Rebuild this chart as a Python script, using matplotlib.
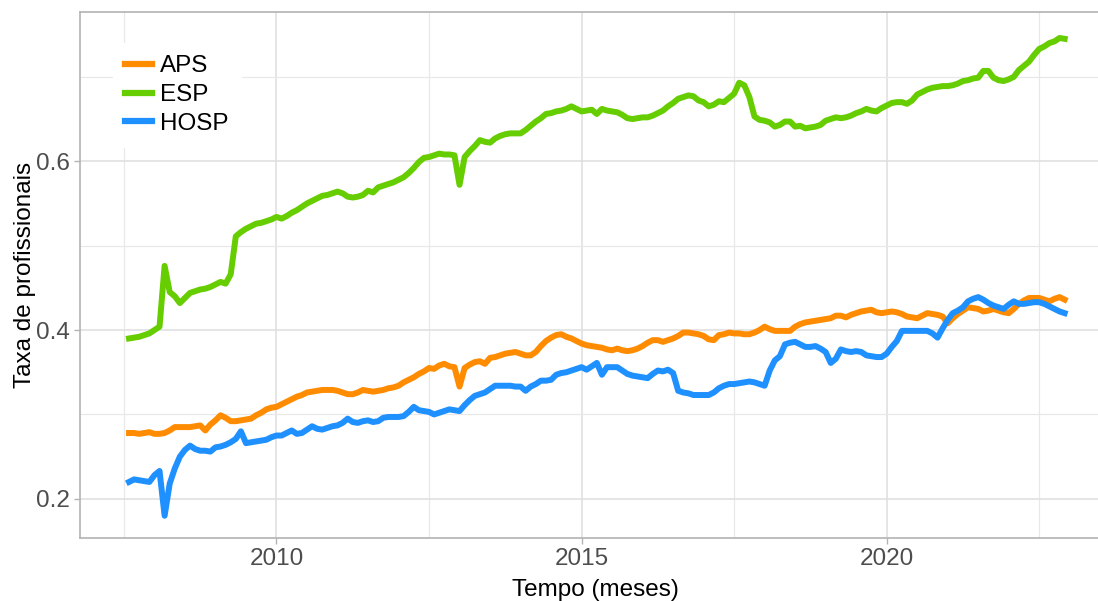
import matplotlib
matplotlib.use("Agg")
import matplotlib.pyplot as plt
import numpy as np

# series mensais, ago/2007 a dez/2022
inicio = 2007 + 7 / 12

aps = [
    0.278, 0.278, 0.277, 0.278, 0.279,
    0.277, 0.277, 0.278, 0.281, 0.285, 0.285, 0.285, 0.285, 0.286, 0.287, 0.281, 0.288,
    0.293, 0.299, 0.296, 0.292, 0.292, 0.293, 0.294, 0.295, 0.299, 0.302, 0.306, 0.308,
    0.309, 0.312, 0.315, 0.318, 0.321, 0.323, 0.326, 0.327, 0.328, 0.329, 0.329, 0.329,
    0.328, 0.326, 0.324, 0.324, 0.326, 0.329, 0.328, 0.327, 0.328, 0.329, 0.331, 0.332,
    0.334, 0.338, 0.341, 0.344, 0.348, 0.351, 0.355, 0.354, 0.358, 0.360, 0.357, 0.356,
    0.333, 0.355, 0.359, 0.362, 0.363, 0.360, 0.367, 0.368, 0.370, 0.372, 0.373, 0.374,
    0.372, 0.370, 0.370, 0.374, 0.381, 0.387, 0.391, 0.394, 0.395, 0.392, 0.390, 0.387,
    0.384, 0.382, 0.381, 0.380, 0.379, 0.377, 0.376, 0.378, 0.376, 0.375, 0.376, 0.378,
    0.381, 0.385, 0.388, 0.388, 0.386, 0.388, 0.390, 0.393, 0.397, 0.397, 0.396, 0.395,
    0.393, 0.389, 0.388, 0.394, 0.395, 0.397, 0.396, 0.396, 0.395, 0.395, 0.397, 0.400,
    0.404, 0.401, 0.399, 0.399, 0.399, 0.399, 0.404, 0.407, 0.409, 0.410, 0.411, 0.412,
    0.413, 0.414, 0.417, 0.417, 0.415, 0.418, 0.420, 0.422, 0.423, 0.424, 0.421, 0.420,
    0.421, 0.422, 0.421, 0.419, 0.416, 0.415, 0.414, 0.417, 0.420, 0.419, 0.418, 0.416,
    0.408, 0.414, 0.419, 0.423, 0.427, 0.426, 0.425, 0.422, 0.423, 0.425, 0.423, 0.421,
    0.420, 0.425, 0.431, 0.435, 0.438, 0.438, 0.438, 0.436, 0.434, 0.437, 0.439, 0.436,
]

esp = [
    0.390, 0.391, 0.392, 0.394, 0.396,
    0.400, 0.404, 0.476, 0.445, 0.440, 0.432, 0.438, 0.444, 0.446, 0.448, 0.449, 0.451,
    0.454, 0.457, 0.455, 0.466, 0.511, 0.516, 0.520, 0.523, 0.526, 0.527, 0.529, 0.531,
    0.534, 0.532, 0.535, 0.539, 0.542, 0.546, 0.550, 0.553, 0.556, 0.559, 0.560, 0.562,
    0.564, 0.562, 0.558, 0.557, 0.558, 0.560, 0.565, 0.563, 0.569, 0.571, 0.573, 0.575,
    0.578, 0.581, 0.586, 0.592, 0.599, 0.604, 0.605, 0.607, 0.609, 0.608, 0.608, 0.607,
    0.572, 0.605, 0.612, 0.618, 0.625, 0.623, 0.622, 0.627, 0.630, 0.632, 0.633, 0.633,
    0.633, 0.637, 0.642, 0.647, 0.651, 0.656, 0.657, 0.659, 0.660, 0.662, 0.665, 0.662,
    0.659, 0.660, 0.661, 0.656, 0.662, 0.660, 0.659, 0.658, 0.655, 0.651, 0.650, 0.651,
    0.652, 0.652, 0.654, 0.657, 0.660, 0.665, 0.669, 0.674, 0.676, 0.678, 0.677, 0.672,
    0.670, 0.665, 0.667, 0.671, 0.670, 0.675, 0.680, 0.693, 0.690, 0.676, 0.653, 0.649,
    0.648, 0.646, 0.641, 0.643, 0.647, 0.647, 0.641, 0.642, 0.639, 0.640, 0.641, 0.643,
    0.648, 0.650, 0.652, 0.651, 0.652, 0.654, 0.657, 0.659, 0.662, 0.660, 0.659, 0.663,
    0.666, 0.669, 0.670, 0.670, 0.668, 0.672, 0.679, 0.682, 0.685, 0.687, 0.688, 0.689,
    0.689, 0.690, 0.692, 0.695, 0.696, 0.698, 0.699, 0.707, 0.707, 0.699, 0.696, 0.695,
    0.697, 0.700, 0.708, 0.713, 0.718, 0.726, 0.733, 0.736, 0.740, 0.742, 0.746, 0.745,
]

hosp = [
    0.220, 0.223, 0.222, 0.221, 0.220,
    0.228, 0.233, 0.180, 0.218, 0.236, 0.250, 0.258, 0.263, 0.259, 0.257, 0.257, 0.256,
    0.261, 0.262, 0.264, 0.267, 0.271, 0.280, 0.266, 0.267, 0.268, 0.269, 0.270, 0.273,
    0.275, 0.275, 0.278, 0.281, 0.277, 0.278, 0.282, 0.286, 0.283, 0.282, 0.284, 0.286,
    0.287, 0.290, 0.295, 0.291, 0.290, 0.292, 0.293, 0.291, 0.292, 0.296, 0.297, 0.297,
    0.297, 0.298, 0.303, 0.309, 0.305, 0.304, 0.303, 0.300, 0.302, 0.304, 0.306, 0.305,
    0.304, 0.311, 0.317, 0.322, 0.324, 0.326, 0.330, 0.334, 0.334, 0.334, 0.334, 0.333,
    0.333, 0.328, 0.333, 0.336, 0.340, 0.340, 0.341, 0.347, 0.349, 0.350, 0.352, 0.354,
    0.356, 0.353, 0.357, 0.361, 0.347, 0.356, 0.356, 0.356, 0.352, 0.348, 0.346, 0.345,
    0.344, 0.343, 0.348, 0.352, 0.351, 0.353, 0.349, 0.328, 0.326, 0.325, 0.323, 0.323,
    0.323, 0.323, 0.326, 0.331, 0.334, 0.336, 0.336, 0.337, 0.338, 0.339, 0.338, 0.336,
    0.334, 0.352, 0.364, 0.369, 0.383, 0.385, 0.386, 0.383, 0.380, 0.380, 0.381, 0.378,
    0.374, 0.361, 0.366, 0.377, 0.375, 0.374, 0.375, 0.374, 0.370, 0.369, 0.368, 0.368,
    0.372, 0.380, 0.387, 0.399, 0.399, 0.399, 0.399, 0.399, 0.399, 0.396, 0.391, 0.402,
    0.412, 0.420, 0.423, 0.427, 0.434, 0.437, 0.439, 0.436, 0.432, 0.429, 0.427, 0.425,
    0.430, 0.434, 0.431, 0.431, 0.432, 0.433, 0.433, 0.431, 0.428, 0.425, 0.422, 0.420,
]

series = ["APS", "ESP", "HOSP"]
cores = ["#FF8C00", "#66CD00", "#1E90FF"]

plt.rcParams["font.family"] = ["Liberation Sans", "DejaVu Sans"]

fig = plt.figure(figsize=(10.98, 6.01), dpi=100)
ax = fig.add_axes([80 / 1098, 63 / 601, 1030 / 1098, 526 / 601])

tempo = inicio + np.arange(len(aps)) / 12
for nome, valores, cor in zip(series, [aps, esp, hosp], cores):
    ax.plot(tempo, valores, color=cor, lw=4.3, label=nome, solid_joinstyle="round")

ax.set_xlim(2006.78, 2023.66)
ax.set_ylim(0.1536, 0.7768)

ax.set_xticks([2010, 2015, 2020])
ax.set_xticks([2007.5, 2012.5, 2017.5, 2022.5], minor=True)
ax.set_yticks([0.2, 0.4, 0.6])
ax.set_yticklabels(["0.2", "0.4", "0.6"])
ax.set_yticks([0.3, 0.5, 0.7], minor=True)

ax.grid(True, which="major", color="#DEDEDE", lw=1.1)
ax.grid(True, which="minor", color="#E8E8E8", lw=0.9)
ax.set_axisbelow(True)

for s in ax.spines.values():
    s.set_color("#B3B3B3")
    s.set_linewidth(1.2)

ax.tick_params(which="major", length=4, width=1, color="#B3B3B3",
               labelsize=17.5, labelcolor="#4D4D4D", pad=3)
ax.tick_params(which="minor", length=0)

ax.set_xlabel("Tempo (meses)", fontsize=17.5, labelpad=7)
ax.set_ylabel("Taxa de profissionais", fontsize=17.5, labelpad=0)

leg = ax.legend(loc="upper left", bbox_to_anchor=(0.032, 0.941), frameon=True,
                fontsize=17.5, handlelength=1.1, handletextpad=0.35,
                labelspacing=0.28, borderpad=0.5, borderaxespad=0)
leg.get_frame().set_facecolor("white")
leg.get_frame().set_edgecolor("white")
leg.get_frame().set_alpha(1)
leg.get_frame().set_boxstyle("square", pad=0)
for linha in leg.get_lines():
    linha.set_linewidth(4.5)

fig.savefig("out.png", dpi=100)
